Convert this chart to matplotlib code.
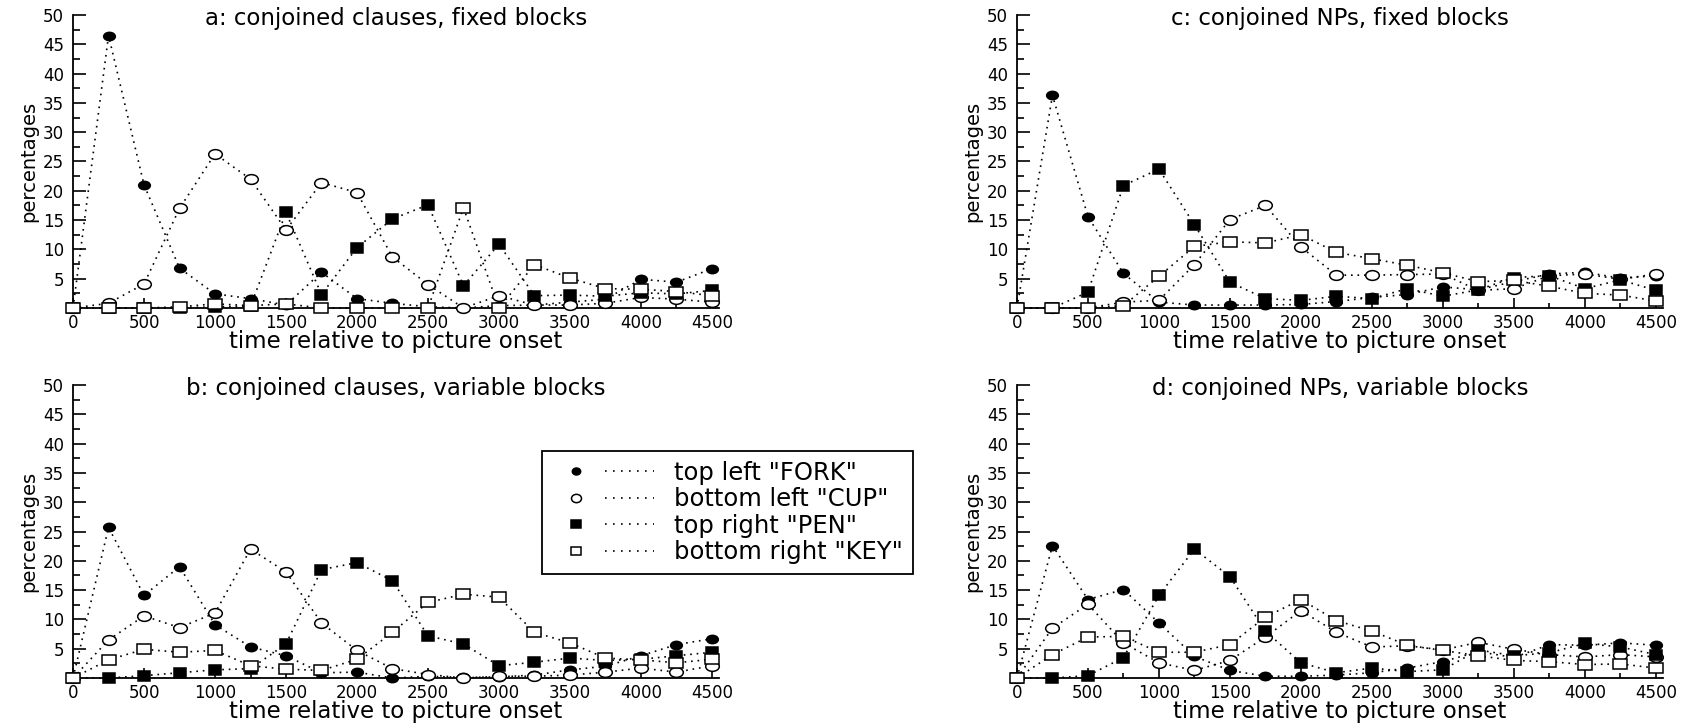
import matplotlib
matplotlib.use('Agg')
import matplotlib.pyplot as plt
from matplotlib.markers import MarkerStyle
from matplotlib.transforms import Affine2D
from matplotlib.lines import Line2D
from matplotlib.legend_handler import HandlerTuple

plt.rcParams['font.family'] = ['DejaVu Sans']

# time bins (ms relative to picture onset)
times = [0, 250, 500, 750, 1000, 1250, 1500, 1750, 2000, 2250,
         2500, 2750, 3000, 3250, 3500, 3750, 4000, 4250, 4500]

labels = ['top left "FORK"', 'bottom left "CUP"', 'top right "PEN"', 'bottom right "KEY"']

# a: conjoined clauses, fixed blocks
fork_a = [0, 46.5, 21.0, 6.8, 2.4, 1.6, 0.5, 6.1, 1.6, 0.8, 0.2, 0.0, 0.4, 0.5, 1.0, 1.5, 4.9, 4.4, 6.7]
cup_a = [0, 0.8, 4.1, 17.0, 26.3, 22.0, 13.3, 21.4, 19.7, 8.7, 4.0, 0.0, 2.1, 0.5, 0.5, 0.8, 1.8, 1.5, 1.0]
pen_a = [0, 0, 0, 0, 0.2, 0.3, 16.3, 2.3, 10.3, 15.2, 17.6, 3.8, 10.9, 2.1, 2.2, 2.0, 2.6, 2.4, 3.0]
key_a = [0, 0, 0, 0.2, 0.7, 0.4, 0.7, 0, 0, 0, 0, 17.1, 0, 7.4, 5.1, 3.3, 3.2, 2.8, 2.1]

# b: conjoined clauses, variable blocks
fork_b = [0, 25.7, 14.1, 19.0, 9.1, 5.3, 3.8, 0.9, 1.0, 0.0, 0.3, 0.1, 0.2, 0.5, 1.4, 2.0, 3.8, 5.7, 6.7]
cup_b = [0, 6.5, 10.6, 8.6, 11.1, 22.0, 18.1, 9.4, 4.7, 1.6, 0.6, 0.0, 0.3, 0.3, 0.5, 1.0, 1.7, 1.0, 2.1]
pen_b = [0, 0, 0.4, 0.9, 1.4, 1.6, 5.8, 18.5, 19.7, 16.6, 7.2, 5.8, 2.1, 2.7, 3.4, 3.0, 3.2, 3.8, 4.4]
key_b = [0, 3.1, 4.9, 4.4, 4.7, 2.1, 1.5, 1.3, 3.2, 7.8, 12.9, 14.3, 13.8, 7.8, 6.0, 3.4, 3.1, 2.6, 3.2]

# c: conjoined NPs, fixed blocks
fork_c = [0, 36.3, 15.6, 5.9, 1.0, 0.5, 0.5, 0.5, 0.6, 1.1, 1.8, 2.3, 3.6, 3.1, 4.5, 5.8, 6.1, 5.1, 5.5]
cup_c = [0, 0, 0, 1.0, 1.3, 7.4, 15.1, 17.5, 10.4, 5.6, 5.6, 5.7, 5.8, 3.0, 3.3, 5.5, 5.8, 4.9, 5.8]
pen_c = [0, 0, 2.7, 20.9, 23.7, 14.2, 4.4, 1.6, 1.3, 2.0, 1.6, 3.3, 2.0, 3.1, 5.2, 5.5, 3.3, 4.8, 3.0]
key_c = [0, 0, 0, 0.4, 5.4, 10.5, 11.3, 11.1, 12.5, 9.5, 8.4, 7.3, 6.0, 4.5, 4.7, 3.7, 2.5, 2.2, 1.2]

# d: conjoined NPs, variable blocks
fork_d = [0, 22.6, 13.4, 15.1, 9.4, 3.7, 1.3, 0.3, 0.3, 0.5, 0.9, 1.7, 2.8, 4.5, 3.5, 5.7, 5.6, 6.0, 5.6]
cup_d = [0, 8.5, 12.6, 6.0, 2.6, 1.3, 3.0, 7.0, 11.5, 7.8, 5.3, 5.5, 4.8, 6.1, 4.9, 4.0, 3.6, 4.0, 3.6]
pen_d = [0, 0, 0.4, 3.5, 14.1, 22.0, 17.3, 8.0, 2.6, 0.9, 1.7, 1.1, 1.4, 4.8, 3.8, 4.3, 5.9, 5.3, 4.0]
key_d = [0, 4.0, 7.0, 7.1, 4.4, 4.4, 5.7, 10.4, 13.4, 9.8, 8.0, 5.6, 4.7, 3.8, 3.0, 2.8, 2.3, 2.4, 1.7]

panels = [
    ('a: conjoined clauses, fixed blocks', [fork_a, cup_a, pen_a, key_a], [0.0432, 0.5752, 0.3820, 0.4041]),
    ('b: conjoined clauses, variable blocks', [fork_b, cup_b, pen_b, key_b], [0.0432, 0.0648, 0.3820, 0.4041]),
    ('c: conjoined NPs, fixed blocks', [fork_c, cup_c, pen_c, key_c], [0.6014, 0.5752, 0.3820, 0.4041]),
    ('d: conjoined NPs, variable blocks', [fork_d, cup_d, pen_d, key_d], [0.6014, 0.0648, 0.3820, 0.4041]),
]

# the original scan is stretched sideways, so markers are wide ellipses
stretch = Affine2D().scale(1.4, 1.0)
marks = [('o', 'black', 6.0), ('o', 'white', 7.0), ('s', 'black', 6.5), ('s', 'white', 7.0)]
dots = (0, (1, 2.9))

fig = plt.figure(figsize=(16.91, 7.25), dpi=100)

for title, series, pos in panels:
    ax = fig.add_axes(pos)
    for vals in series:
        ax.plot(times, vals, ls=dots, lw=1.2, color='black', zorder=2, clip_on=False)
    for vals, (m, fc, ms) in zip(series, marks):
        ax.plot(times, vals, ls='none', marker=MarkerStyle(m, transform=stretch),
                ms=ms, mfc=fc, mec='black', mew=1.1, zorder=3, clip_on=False)
    ax.set_xlim(0, 4550)
    ax.set_ylim(0, 50)
    ax.spines['top'].set_visible(False)
    ax.spines['right'].set_visible(False)
    ax.spines['left'].set_linewidth(1.3)
    ax.spines['bottom'].set_linewidth(1.3)
    ax.set_xticks(range(0, 4501, 500))
    ax.set_xticks(range(250, 4500, 500), minor=True)
    ax.set_yticks(range(5, 51, 5))
    ax.set_yticks([2.5 + 5 * i for i in range(10)], minor=True)
    ax.tick_params(which='both', direction='in', width=1.2, labelsize=12)
    ax.tick_params(axis='y', which='major', length=9.5, pad=6.5)
    ax.tick_params(axis='y', which='minor', length=5)
    ax.tick_params(axis='x', which='major', length=7, pad=4)
    ax.tick_params(axis='x', which='minor', length=3.5)
    ax.set_title(title, fontsize=16.5, y=0.966, pad=0)
    ax.set_xlabel('time relative to picture onset', fontsize=16.5, labelpad=-1)
    ax.set_ylabel('percentages', fontsize=14, labelpad=3)

handles = []
for m, fc, ms in marks:
    mk = Line2D([], [], ls='none', marker=MarkerStyle(m, transform=Affine2D().scale(1.2, 1.0)),
                ms=ms - 1, mfc=fc, mec='black', mew=1.1)
    ln = Line2D([], [], ls=(0, (1, 3.8)), lw=1.2, color='black')
    handles.append((mk, ln))

leg = fig.legend(handles, labels, handler_map={tuple: HandlerTuple(ndivide=None, pad=0.16)},
                 loc='upper left', bbox_to_anchor=(542 / 1691, 1 - 451 / 725), borderaxespad=0,
                 fontsize=17.5, handlelength=4.2, handletextpad=0.85, labelspacing=0.1,
                 borderpad=0.4, fancybox=False, framealpha=1, edgecolor='black')
leg.get_frame().set_linewidth(1.3)

fig.savefig('out.png', dpi=100)
